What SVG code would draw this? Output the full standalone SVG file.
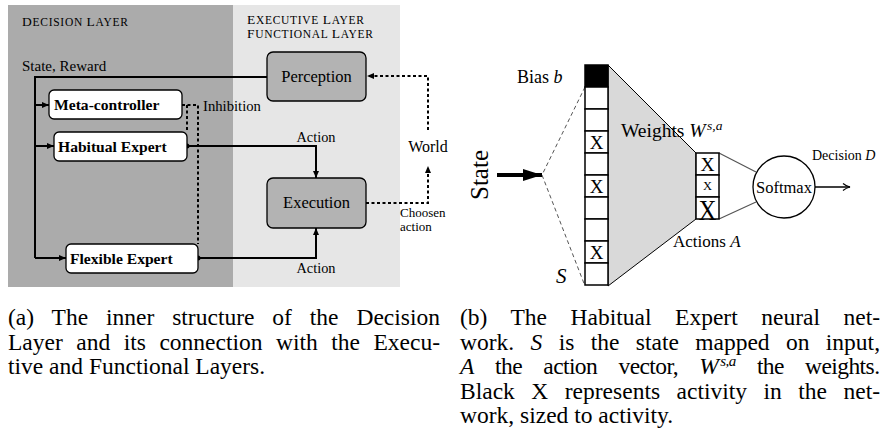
<svg xmlns="http://www.w3.org/2000/svg" width="887" height="437" viewBox="0 0 887 437" font-family="'Liberation Serif', 'DejaVu Serif', serif">
<style>
text{font-family:'Liberation Serif','DejaVu Serif',serif;fill:#000}
.box{fill:#fff;stroke:#000;stroke-width:1.3}
.gbox{fill:#b3b3b3;stroke:#000;stroke-width:1.3}
.lab{font-size:14.3px}
.bold{font-size:15.6px;font-weight:bold}
.sc1{font-size:13.5px}
.sc2{font-size:11.5px}
.solid{fill:none;stroke:#000;stroke-width:2}
.dot{fill:none;stroke:#000;stroke-width:2;stroke-dasharray:3 2.5}
.cell{fill:#fff;stroke:#000;stroke-width:1.5}
.cap{font-size:23.5px}
.it{font-style:italic}
</style>
<defs>
<marker id="arr" markerUnits="userSpaceOnUse" markerWidth="8" markerHeight="8" refX="7" refY="4" orient="auto">
<path d="M0,1 L7,4 L0,7 z" fill="#000"/>
</marker>
<marker id="big" markerUnits="userSpaceOnUse" markerWidth="20" markerHeight="14" refX="19" refY="7" orient="auto">
<path d="M0,1 L19,7 L0,13 z" fill="#000"/>
</marker>
<marker id="open" markerUnits="userSpaceOnUse" markerWidth="10" markerHeight="10" refX="8" refY="5" orient="auto">
<path d="M1,1.5 Q4,4 8,5 Q4,6 1,8.5" fill="none" stroke="#000" stroke-width="1.2"/>
</marker>
</defs>

<!-- Panel (a) -->
<g id="decision-layer">
<rect x="8" y="5" width="225" height="282" fill="#ababab"/>
<text x="22" y="26" textLength="106" lengthAdjust="spacing"><tspan class="sc1">D</tspan><tspan class="sc2">ECISION </tspan><tspan class="sc1">L</tspan><tspan class="sc2">AYER</tspan></text>
</g>
<g id="executive-layer">
<rect x="233" y="5" width="167" height="282" fill="#e6e6e6"/>
<text x="247" y="24" textLength="117" lengthAdjust="spacing"><tspan class="sc1">E</tspan><tspan class="sc2">XECUTIVE </tspan><tspan class="sc1">L</tspan><tspan class="sc2">AYER</tspan></text>
<text x="247" y="38" textLength="126" lengthAdjust="spacing"><tspan class="sc1">F</tspan><tspan class="sc2">UNCTIONAL </tspan><tspan class="sc1">L</tspan><tspan class="sc2">AYER</tspan></text>
</g>

<g id="connectors-a">
<path class="solid" d="M267,77 H35 V258"/>
<path class="solid" d="M35,105 H49" stroke-width="1.5" marker-end="url(#arr)"/>
<path class="solid" d="M35,146 H54" stroke-width="1.5" marker-end="url(#arr)"/>
<path class="solid" d="M35,258 H66" stroke-width="1.5" marker-end="url(#arr)"/>
<path class="dot" d="M182,105 H198 V244"/>
<path class="dot" d="M187,105 V132"/>
<path class="solid" d="M187,146 H316 V178" marker-end="url(#arr)"/>
<circle cx="187" cy="146" r="2.5"/>
<path class="solid" d="M198,258 H316 V228" marker-end="url(#arr)"/>
<circle cx="198" cy="258" r="2.5"/>
<path class="dot" d="M366,203 H428 V166" marker-end="url(#arr)"/>
<path class="dot" d="M428,130 V76 H367" marker-end="url(#arr)"/>
<text x="22" y="71" font-size="15">State, Reward</text>
<text x="203" y="111" font-size="14.7">Inhibition</text>
<text class="lab" x="316" y="142" text-anchor="middle">Action</text>
<text class="lab" x="316" y="273" text-anchor="middle">Action</text>
<text x="428" y="152" text-anchor="middle" font-size="16">World</text>
<text x="400" y="216.5" font-size="13">Choosen</text>
<text x="400" y="231" font-size="13">action</text>
</g>

<g id="perception">
<rect class="gbox" x="267" y="52" width="99" height="49" rx="6"/>
<text x="316.5" y="82" text-anchor="middle" font-size="16.5">Perception</text>
</g>
<g id="execution">
<rect class="gbox" x="267" y="178" width="99" height="50" rx="6"/>
<text x="316.5" y="208" text-anchor="middle" font-size="16.5">Execution</text>
</g>
<g id="meta-controller">
<rect class="box" x="49" y="90" width="133" height="29" rx="5"/>
<text class="bold" x="54" y="110" font-size="15.4">Meta-controller</text>
</g>
<g id="habitual-expert">
<rect class="box" x="54" y="132" width="133" height="29" rx="5"/>
<text class="bold" x="58" y="151.5">Habitual Expert</text>
</g>
<g id="flexible-expert">
<rect class="box" x="66" y="244" width="132" height="29" rx="5"/>
<text class="bold" x="70" y="263.5">Flexible Expert</text>
</g>

<!-- Panel (b) -->
<g id="weights">
<polygon points="608,65 696,153 696,219 608,286" fill="#d9d9d9" stroke="#000" stroke-width="1"/>
<text x="621" y="137" font-size="19.5">Weights <tspan class="it">W</tspan><tspan class="it" font-size="13.5" dx="1.5" dy="-7">s,a</tspan></text>
</g>
<g id="connectors-b">
<path d="M585,87 L542,175 L585,286" fill="none" stroke="#555" stroke-width="1" stroke-dasharray="4 3"/>
<path d="M497,175 H542" stroke="#000" stroke-width="4" marker-end="url(#big)"/>
<path d="M719,153 L756,172 M719,219 L756,202" stroke="#555" stroke-width="1.2" fill="none"/>
<path d="M815,187 H850" stroke="#000" stroke-width="1.3" fill="none" marker-end="url(#open)"/>
<text font-size="25" text-anchor="middle" transform="translate(488,175) rotate(-90)">State</text>
<text x="812" y="160" font-size="14">Decision <tspan class="it">D</tspan></text>
</g>
<g id="input-layer">
<rect x="585" y="65" width="23" height="22" fill="#000" stroke="#000" stroke-width="1.5"/>
<rect class="cell" x="585" y="87" width="23" height="22"/>
<rect class="cell" x="585" y="109" width="23" height="22"/>
<rect class="cell" x="585" y="131" width="23" height="22"/>
<rect class="cell" x="585" y="153" width="23" height="22"/>
<rect class="cell" x="585" y="175" width="23" height="22"/>
<rect class="cell" x="585" y="197" width="23" height="22"/>
<rect class="cell" x="585" y="219" width="23" height="22"/>
<rect class="cell" x="585" y="241" width="23" height="22"/>
<rect class="cell" x="585" y="263" width="23" height="22"/>
<text x="596.5" y="149" font-size="19" text-anchor="middle">X</text>
<text x="596.5" y="193" font-size="19" text-anchor="middle">X</text>
<text x="596.5" y="259" font-size="19" text-anchor="middle">X</text>
<text x="517" y="83" font-size="18">Bias <tspan class="it">b</tspan></text>
<text x="556" y="283" font-size="21" class="it">S</text>
</g>
<g id="action-layer">
<rect class="cell" x="696" y="153" width="23" height="22"/>
<rect class="cell" x="696" y="175" width="23" height="22"/>
<rect class="cell" x="696" y="197" width="23" height="22"/>
<text x="707.5" y="171" font-size="19.5" text-anchor="middle">X</text>
<text x="707.5" y="189.5" font-size="12.5" text-anchor="middle">X</text>
<text x="698.5" y="219.5" font-size="29" textLength="18" lengthAdjust="spacingAndGlyphs">X</text>
<text x="673" y="247" font-size="17">Actions <tspan class="it">A</tspan></text>
</g>
<g id="softmax">
<circle cx="784" cy="187" r="31" fill="#fff" stroke="#000" stroke-width="1.3"/>
<text x="784" y="192.5" font-size="16.5" text-anchor="middle">Softmax</text>
</g>

<!-- Captions -->
<g id="caption-a">
<text class="cap" x="8" y="325" textLength="432" lengthAdjust="spacing" word-spacing="12">(a) The inner structure of the Decision</text>
<text class="cap" x="8" y="349.5" textLength="432" lengthAdjust="spacing" word-spacing="7.6">Layer and its connection with the Execu-</text>
<text class="cap" x="8" y="374">tive and Functional Layers.</text>
</g>
<g id="caption-b">
<text class="cap" x="460" y="325" textLength="420" lengthAdjust="spacing" word-spacing="17.6">(b) The Habitual Expert neural net-</text>
<text class="cap" x="460" y="349.5" textLength="420" lengthAdjust="spacing" word-spacing="10.5">work. <tspan class="it">S</tspan> is the state mapped on input,</text>
<text class="cap" x="460" y="374" textLength="420" lengthAdjust="spacing" word-spacing="16"><tspan class="it">A</tspan> the action vector, <tspan class="it">W</tspan><tspan class="it" font-size="15" dx="2" dy="-8">s,a</tspan><tspan dy="8"> the weights.</tspan></text>
<text class="cap" x="460" y="398.5" textLength="420" lengthAdjust="spacing" word-spacing="10.6">Black X represents activity in the net-</text>
<text class="cap" x="460" y="423">work, sized to activity.</text>
</g>
</svg>
